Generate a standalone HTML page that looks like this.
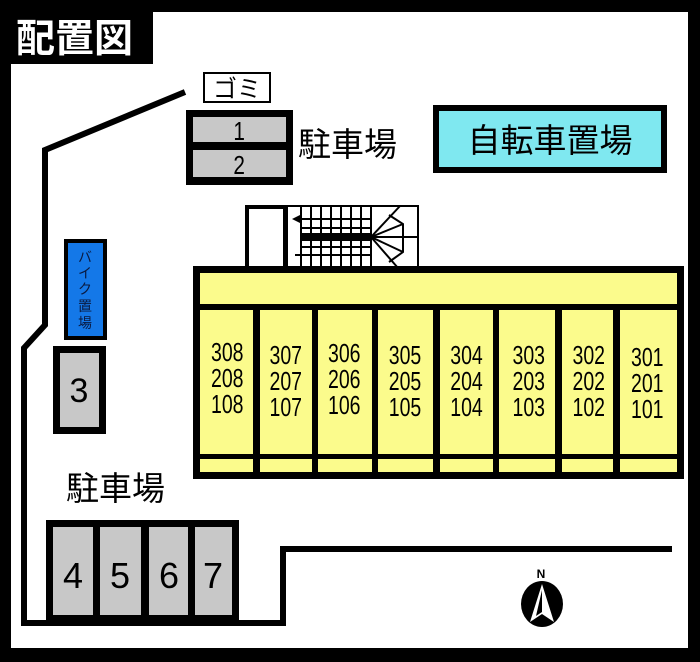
<!DOCTYPE html>
<html><head><meta charset="utf-8"><style>
html,body{margin:0;padding:0;background:#000;}
svg{display:block}
text{font-family:"Liberation Sans","Noto Sans CJK JP",sans-serif;}
</style></head><body>
<svg width="700" height="662" viewBox="0 0 700 662" xmlns="http://www.w3.org/2000/svg">
<rect x="0" y="0" width="700" height="662" fill="#000"/>
<rect x="11" y="12" width="677" height="636" fill="#fff"/>
<rect x="0" y="0" width="153" height="64" fill="#000"/>
<text x="16" y="52" font-size="39" font-weight="bold" fill="#fff" font-family="Noto Sans CJK JP,sans-serif">配置図</text>

<polyline points="185,92 45,150 45,325 24,348 24,623 283,623 283,549 672,549" fill="none" stroke="#000" stroke-width="6"/>

<rect x="204" y="73" width="66" height="29" fill="#fff" stroke="#000" stroke-width="2"/>
<text x="237" y="97" font-size="24" text-anchor="middle" font-family="Noto Sans CJK JP,sans-serif">ゴミ</text>

<rect x="186" y="110" width="107" height="75" fill="#000"/>
<rect x="193" y="117" width="93" height="25" fill="#c8c8c8"/>
<rect x="193" y="150" width="93" height="27" fill="#c8c8c8"/>
<g transform="scale(0.8,1)" font-size="26" text-anchor="middle">
<text x="299" y="140">1</text>
<text x="299" y="174">2</text>
</g>
<text x="298" y="156" font-size="33" font-family="Noto Sans CJK JP,sans-serif">駐車場</text>

<rect x="436" y="108" width="228" height="62" fill="#7fe8f0" stroke="#000" stroke-width="6"/>
<text x="550" y="152" font-size="33" text-anchor="middle" font-family="Noto Sans CJK JP,sans-serif">自転車置場</text>

<rect x="247" y="207" width="38" height="62" fill="#fff" stroke="#000" stroke-width="4"/>
<rect x="287" y="206" width="131" height="62" fill="#fff" stroke="#000" stroke-width="2"/>
<g stroke="#000" stroke-width="2">
<line x1="301" y1="206" x2="301" y2="268"/><line x1="311" y1="206" x2="311" y2="268"/><line x1="321" y1="206" x2="321" y2="268"/><line x1="331" y1="206" x2="331" y2="268"/><line x1="341" y1="206" x2="341" y2="268"/><line x1="351" y1="206" x2="351" y2="268"/><line x1="361" y1="206" x2="361" y2="268"/><line x1="371" y1="206" x2="371" y2="268"/>
<line x1="295" y1="219" x2="371" y2="219"/><line x1="295" y1="255" x2="371" y2="255"/>
<line x1="301" y1="228" x2="371" y2="228"/><line x1="301" y1="247" x2="371" y2="247"/>
<line x1="371" y1="237" x2="400" y2="206"/><line x1="371" y1="237" x2="403" y2="224"/><line x1="371" y1="237" x2="418" y2="237"/><line x1="371" y1="237" x2="403" y2="252"/><line x1="371" y1="237" x2="398" y2="268"/>
<polyline points="389,215 403,224 403,252 389,262" fill="none"/>
</g>
<rect x="301" y="233" width="70" height="8" fill="#000"/>
<polygon points="292,219 300,215 300,223" fill="#000"/>

<rect x="193" y="266" width="491" height="213" fill="#000"/>
<rect x="200" y="273" width="477" height="31" fill="#fbfb8c"/>
<g fill="#fbfb8c">
<rect x="200" y="310" width="53" height="144"/><rect x="260" y="310" width="52" height="144"/><rect x="318" y="310" width="54" height="144"/><rect x="378" y="310" width="55" height="144"/><rect x="440" y="310" width="53" height="144"/><rect x="499" y="310" width="56" height="144"/><rect x="562" y="310" width="51" height="144"/><rect x="620" y="310" width="57" height="144"/>
<rect x="200" y="459" width="53" height="13"/><rect x="260" y="459" width="52" height="13"/><rect x="318" y="459" width="54" height="13"/><rect x="378" y="459" width="55" height="13"/><rect x="440" y="459" width="53" height="13"/><rect x="499" y="459" width="56" height="13"/><rect x="562" y="459" width="51" height="13"/><rect x="620" y="459" width="57" height="13"/>
</g>
<g font-size="26" text-anchor="middle" transform="scale(0.75,1)">
<text x="303" y="361">308</text><text x="303" y="387">208</text><text x="303" y="413">108</text>
<text x="381" y="364">307</text><text x="381" y="390">207</text><text x="381" y="416">107</text>
<text x="459" y="362">306</text><text x="459" y="388">206</text><text x="459" y="414">106</text>
<text x="540" y="364">305</text><text x="540" y="390">205</text><text x="540" y="416">105</text>
<text x="622" y="364">304</text><text x="622" y="390">204</text><text x="622" y="416">104</text>
<text x="705" y="364">303</text><text x="705" y="390">203</text><text x="705" y="416">103</text>
<text x="785" y="364">302</text><text x="785" y="390">202</text><text x="785" y="416">102</text>
<text x="863" y="366">301</text><text x="863" y="392">201</text><text x="863" y="418">101</text>
</g>

<rect x="66" y="241" width="39" height="97" fill="#1478e8" stroke="#000" stroke-width="4"/>
<g font-size="14" text-anchor="middle" font-family="Noto Sans CJK JP,sans-serif" fill="#0a1a40">
<text x="85" y="262">バ</text><text x="85" y="278">イ</text><text x="85" y="294">ク</text><text x="85" y="311">置</text><text x="85" y="328">場</text>
</g>

<rect x="53" y="346" width="53" height="88" fill="#000"/>
<rect x="60" y="353" width="39" height="74" fill="#c8c8c8"/>
<text x="79" y="402" font-size="34" text-anchor="middle">3</text>

<text x="66" y="500" font-size="33" font-family="Noto Sans CJK JP,sans-serif">駐車場</text>

<rect x="46" y="520" width="193" height="102" fill="#000"/>
<g fill="#c8c8c8">
<rect x="53" y="527" width="40" height="88"/><rect x="100" y="527" width="41" height="88"/><rect x="149" y="527" width="39" height="88"/><rect x="195" y="527" width="37" height="88"/>
</g>
<g font-size="36" text-anchor="middle">
<text x="73" y="588">4</text><text x="120" y="588">5</text><text x="169" y="588">6</text><text x="213" y="588">7</text>
</g>

<text x="541" y="578" font-size="12" font-weight="bold" text-anchor="middle">N</text>
<ellipse cx="542" cy="604" rx="21" ry="23" fill="#000"/>
<polygon points="542,584 530,622 542,614 554,622" fill="#fff"/>
<polygon points="542,590 542,612 536,616" fill="#000"/>
</svg>
</body></html>
